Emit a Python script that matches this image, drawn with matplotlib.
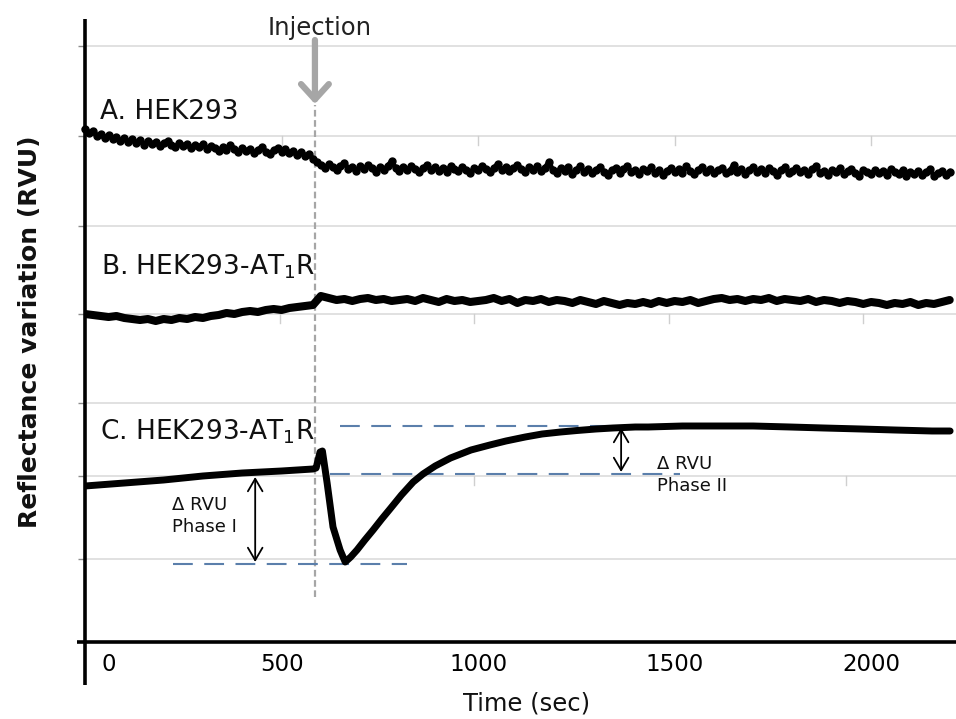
import matplotlib
matplotlib.use("Agg")
import matplotlib.pyplot as plt
from matplotlib.transforms import ScaledTranslation

# ---------------- data ----------------
time_a = list(range(0, 2201, 10))   # sampling times (sec) for trace A
time_b = list(range(0, 2201, 20))   # sampling times (sec) for trace B

trace_a = [513, 509, 511, 506, 508, 504, 507, 503, 505, 501, 504,
           500, 503, 499, 502, 497, 501, 498, 500, 496, 499,
           501, 497, 495, 499, 496, 498, 494, 497, 495, 498,
           493, 496, 494, 491, 495, 492, 497, 493, 490, 494,
           491, 493, 489, 492, 495, 490, 488, 492, 494, 490,
           493, 489, 491, 487, 490, 486, 488, 483, 480, 477,
           474, 478, 475, 472, 476, 479, 473, 475, 471, 476,
           473, 477, 474, 470, 475, 472, 476, 481, 474, 471,
           475, 472, 476, 473, 470, 474, 477, 472, 475, 471,
           474, 470, 476, 473, 471, 475, 472, 469, 474, 472,
           476, 473, 470, 474, 478, 472, 475, 471, 474, 477,
           473, 470, 475, 472, 476, 471, 474, 480, 472, 469,
           474, 471, 475, 468, 472, 476, 470, 473, 469, 472,
           475, 470, 467, 472, 474, 469, 473, 476, 470, 472,
           468, 473, 471, 475, 469, 472, 467, 471, 474, 470,
           473, 469, 476, 471, 468, 472, 475, 470, 473, 469,
           472, 474, 469, 471, 477, 470, 473, 468, 472, 475,
           470, 473, 469, 474, 471, 467, 472, 475, 469, 471,
           474, 470, 472, 468, 473, 476, 469, 471, 467, 472,
           470, 474, 468, 471, 473, 469, 466, 472, 470, 468,
           472, 469, 471, 467, 473, 470, 468, 472, 466, 470,
           468, 471, 467, 470, 473, 466, 469, 471, 467, 470]

trace_b = [328, 327, 326, 325, 326, 324, 323, 322, 323, 321, 323,
           322, 324, 323, 325, 324, 326, 327, 329, 328, 330,
           331, 330, 332, 333, 332, 334, 335, 336, 337,
           346, 344, 342, 343, 341, 343, 344, 342, 343, 341, 342,
           343, 341, 344, 342, 340, 343, 341, 342, 340, 341,
           342, 344, 341, 343, 339, 342, 341, 343, 340, 342,
           341, 339, 342, 340, 338, 341, 339, 337, 339, 338,
           340, 338, 341, 339, 341, 340, 342, 339, 341, 343,
           344, 342, 343, 341, 343, 342, 344, 341, 343, 342,
           341, 343, 340, 342, 341, 339, 341, 340, 338, 340,
           339, 337, 339, 338, 340, 337, 339, 338, 340, 342]

time_c = [0, 100, 200, 300, 400, 500, 580, 588, 598, 604, 616, 631, 649, 662,
          676, 692, 712, 733, 755, 776, 805, 835, 860, 891, 930, 982, 1030,
          1071, 1120, 1163, 1210, 1252, 1300, 1343, 1400, 1433, 1520, 1613,
          1700, 1794, 1880, 1975, 2060, 2155, 2201]
trace_c = [156, 159, 162, 166, 169, 171, 173, 174, 190, 191, 159, 115, 92, 80,
           85, 92, 102, 112, 123, 133, 147, 160, 168, 176, 184, 192, 197,
           201, 205, 208, 210, 211.5, 213, 214, 215, 215, 216, 216,
           216, 215, 214, 213, 212, 211, 211]

injection_time = 585
series_labels = ["A. HEK293", r"B. HEK293-AT$_1$R", r"C. HEK293-AT$_1$R"]
label_pos = [(38, 530), (40, 375), (38, 210)]

# reference levels (dashed) : (y, t_start, t_end)
phase1_low = (78, 224, 819)
baseline_mid = (168, 623, 1514)
phase2_high = (216, 649, 1514)
phase1_arrow = (433, 165, 80)     # (t, y_top, y_bottom)
phase2_arrow = (1364, 214, 170)

grid_levels = [596, 506, 416, 328, 239, 166, 83]
sub_ticks = {506: [500, 1000, 1500, 2000], 328: [495, 990, 1485, 1980], 166: [990, 1935]}

xtick_values = [0, 500, 1000, 1500, 2000]
xtick_labels = ["0", "500", "1000", "1500", "2000"]

# ---------------- figure ----------------
fig = plt.figure(figsize=(9.56, 7.19), dpi=100)
ax = fig.add_axes([85 / 956, 77 / 719, 871 / 956, 623 / 719])
ax.set_xlim(0, 2216)
ax.set_ylim(0, 623)

for s in ax.spines.values():
    s.set_visible(False)

# gridlines
for g in grid_levels:
    ax.axhline(g, color="#d9d9d9", lw=1.1, zorder=0)
for g, ts in sub_ticks.items():
    for tt in ts:
        ax.plot([tt, tt], [g, g - 9], color="#cfcfcf", lw=1.0, zorder=0)

# axes lines
ax.plot([0, 0], [-43, 623], color="black", lw=2.6, clip_on=False, zorder=5,
        solid_capstyle="butt")
ax.plot([-20, 2216], [0, 0], color="black", lw=2.6, clip_on=False, zorder=5,
        solid_capstyle="butt")

# y ticks
ax.set_yticks(grid_levels)
ax.set_yticklabels([])
ax.tick_params(axis="y", direction="out", length=5, width=1, color="#8c8c8c")

# x ticks
ax.set_xticks(xtick_values, xtick_labels)
ax.tick_params(axis="x", length=0, pad=8, labelsize=16.5)
lab0 = ax.get_xticklabels()[0]
lab0.set_transform(lab0.get_transform() + ScaledTranslation(0.24, 0, fig.dpi_scale_trans))

# traces
ax.plot(time_a, trace_a, color="black", lw=3.6, marker="o", ms=5.0,
        solid_joinstyle="round", zorder=3, clip_on=False)
ax.plot(time_b, trace_b, color="black", lw=5.8, solid_joinstyle="round",
        solid_capstyle="round", zorder=3)
ax.plot(time_c, trace_c, color="black", lw=5, solid_joinstyle="round",
        solid_capstyle="round", zorder=3)

# series labels
for lbl, (tx, ty) in zip(series_labels, label_pos):
    ax.text(tx, ty, lbl, fontsize=19, ha="left", va="center", color="#111111")

# injection marker
ax.plot([injection_time, injection_time], [45, 537], color="#a6a6a6", lw=1.6,
        ls=(0, (3, 1.6)), zorder=2)
ax.annotate("", xy=(injection_time, 538), xytext=(injection_time, 602),
            arrowprops=dict(arrowstyle="->,head_length=0.55,head_width=0.5",
                            color="#a6a6a6", lw=4.5, mutation_scale=20,
                            shrinkA=0, shrinkB=0))
ax.text(injection_time + 12, 614, "Injection", fontsize=17.5, ha="center",
        va="center", color="#222222")

# reference dashed levels
dash_kw = dict(color="#5b7fab", lw=1.5, ls=(0, (9.5, 5.5)), zorder=2)
for (yy, t0, t1) in (phase1_low, baseline_mid, phase2_high):
    ax.plot([t0, t1], [yy, yy], **dash_kw)

arrow_kw = dict(arrowstyle="<->,head_length=0.6,head_width=0.35", color="black",
                lw=1.3, mutation_scale=15, shrinkA=0, shrinkB=0)
ax.annotate("", xy=(phase1_arrow[0], phase1_arrow[2]),
            xytext=(phase1_arrow[0], phase1_arrow[1]), arrowprops=arrow_kw)
ax.annotate("", xy=(phase2_arrow[0], phase2_arrow[2]),
            xytext=(phase2_arrow[0], phase2_arrow[1]), arrowprops=arrow_kw)

ax.text(221, 126, "Δ RVU\nPhase I", fontsize=13, ha="left", va="center",
        linespacing=1.3, color="#111111")
ax.text(1455, 167, "Δ RVU\nPhase II", fontsize=13, ha="left", va="center",
        linespacing=1.3, color="#111111")

# axis labels
ax.set_xlabel("Time (sec)", fontsize=17.5, color="#111111")
ax.xaxis.set_label_coords((527 - 85) / 871, (642 - 703) / 623)
ax.xaxis.label.set_va("center")
ax.set_ylabel("Reflectance variation (RVU)", fontsize=18, fontweight="bold",
              color="#111111")
ax.yaxis.set_label_coords((30 - 85) / 871, (642 - 332) / 623)
ax.yaxis.label.set_va("center")

fig.savefig("out.png", dpi=100)
